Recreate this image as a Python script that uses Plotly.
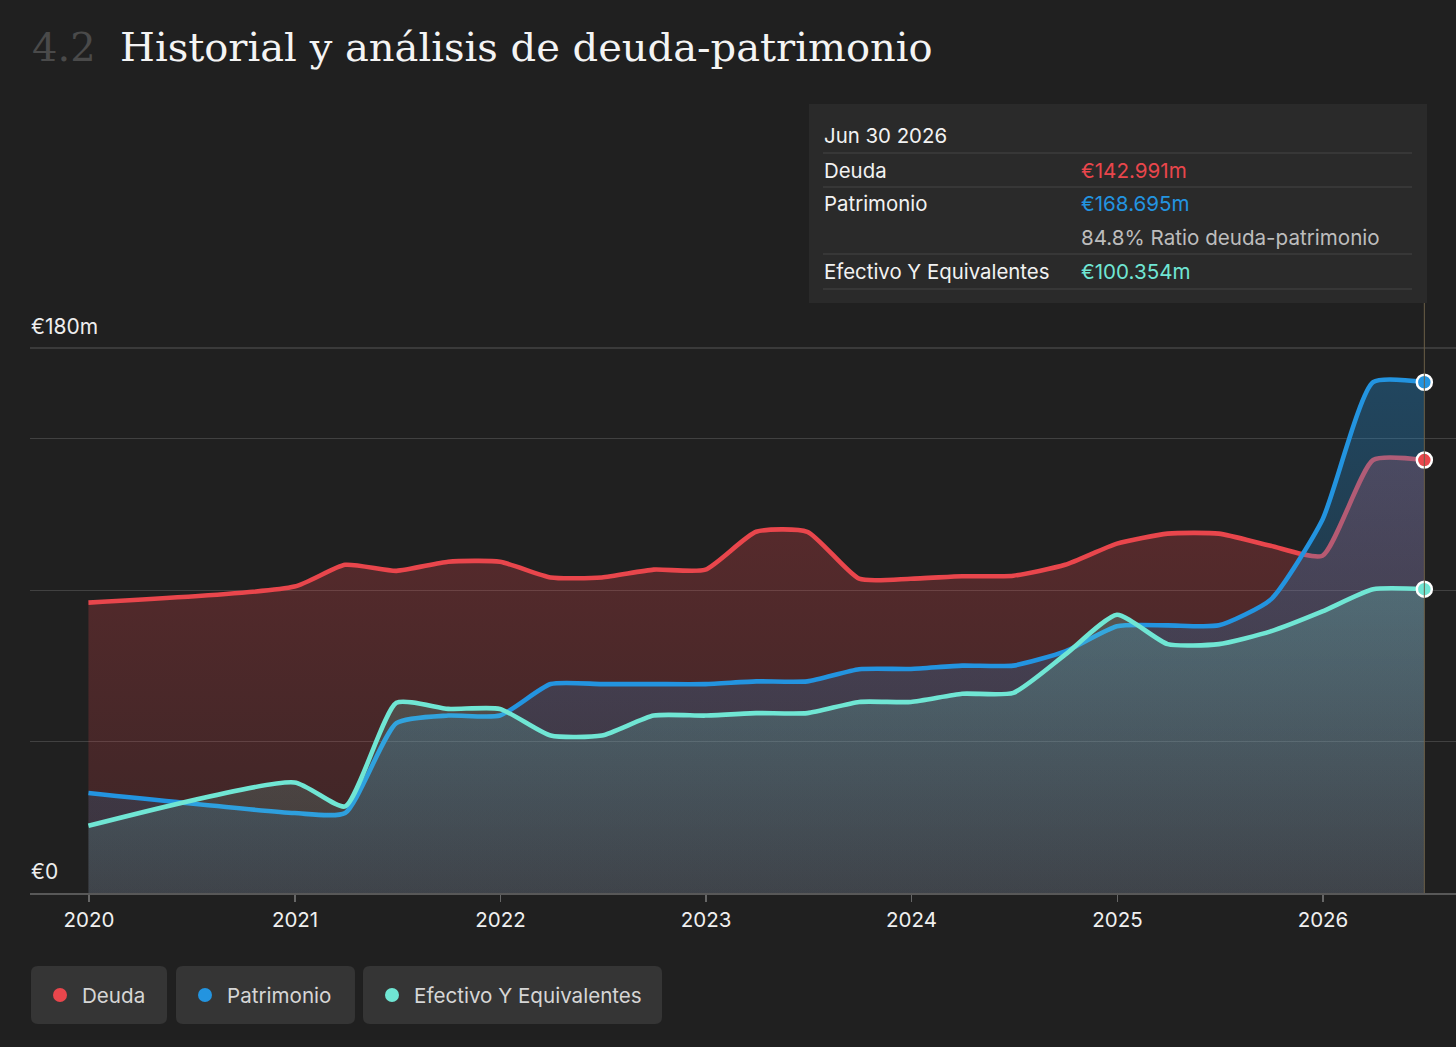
import plotly.graph_objects as go
import pandas as pd

# ---------------- data ----------------
dates = ["2019-12-31", "2020-12-31", "2021-03-31", "2021-06-30", "2021-09-30", "2021-12-31",
         "2022-03-31", "2022-06-30", "2022-09-30", "2022-12-31", "2023-03-31", "2023-06-30",
         "2023-09-30", "2023-12-31", "2024-03-31", "2024-06-30", "2024-09-30", "2024-12-31",
         "2025-03-31", "2025-06-30", "2025-09-30", "2025-12-31", "2026-03-31", "2026-06-30"]
deuda = [95.9, 101.2, 108.4, 106.4, 109.4, 109.4, 104.2, 104.2, 106.8, 106.8, 119.3, 119.3,
         103.8, 103.8, 104.6, 104.8, 108.4, 115.4, 118.7, 118.7, 114.7, 111.4, 143.0, 142.991]
patrimonio = [33.0, 26.4, 26.4, 56.1, 58.6, 58.6, 69.0, 69.0, 69.0, 69.0, 69.9, 69.9,
              73.9, 74.0, 75.1, 75.1, 79.8, 88.1, 88.4, 88.4, 96.9, 123.3, 168.7, 168.695]
efectivo = [22.2, 36.5, 28.6, 62.8, 60.8, 60.8, 52.0, 52.0, 58.6, 58.6, 59.4, 59.4,
            63.1, 63.1, 65.8, 66.1, 78.7, 91.9, 82.2, 82.2, 86.4, 93.0, 100.3, 100.354]

series_names = ["Deuda", "Patrimonio", "Efectivo Y Equivalentes"]
tooltip_date = "Jun 30 2026"
tooltip_values = ["€142.991m", "€168.695m", "€100.354m"]
ratio_text = "84.8% Ratio deuda-patrimonio"
y_labels = ["€0", "€180m"]
grid_vals = [0, 50, 100, 150]
top_val = 180

RED = "#e9464c"
BLUE = "#2394e0"
TEAL = "#70e6d4"
BG = "#202020"

# ---------------- geometry ----------------
W, H = 1456, 1047
L, R, T, B = 30, 0, 300, 154
PW, PH = W - L - R, H - T - B
PX_PER_M = 3.0278

x0_date = pd.Timestamp("2020-01-01")
px_per_day = (1323 - 89) / (pd.Timestamp("2026-01-01") - x0_date).days
xr0 = x0_date - pd.Timedelta(days=(89 - L) / px_per_day)
xr1 = x0_date + pd.Timedelta(days=(W - R - 89) / px_per_day)
yr1 = PH / PX_PER_M


def px(xp):
    return (xp - L) / PW


def py(yp):
    return (H - B - yp) / PH


def rgba(hexc, a):
    h = hexc.lstrip("#")
    r, g, b = int(h[0:2], 16), int(h[2:4], 16), int(h[4:6], 16)
    return f"rgba({r},{g},{b},{a})"


fig = go.Figure()

specs = [
    (deuda, RED, 0.14, 0.33),
    (patrimonio, BLUE, 0.11, 0.34),
    (efectivo, TEAL, 0.10, 0.36),
]
for (vals, col, a0, a1), name in zip(specs, series_names):
    fig.add_trace(go.Scatter(
        x=dates, y=vals, name=name, mode="lines",
        line=dict(color=col, width=4.6, shape="spline", smoothing=0.55),
        fill="tozeroy",
        fillgradient=dict(type="vertical", start=0, stop=180,
                          colorscale=[[0, rgba(col, a0)], [1, rgba(col, a1)]]),
        hoverinfo="skip", showlegend=False,
    ))

for (vals, col, a0, a1), name in zip(specs, series_names):
    fig.add_trace(go.Scatter(
        x=[dates[-1]], y=[vals[-1]], mode="markers",
        marker=dict(color=col, size=15, line=dict(color="white", width=2.5)),
        hoverinfo="skip", showlegend=False, cliponaxis=False,
    ))

shapes = []
# top gridline (180m)
shapes.append(dict(type="line", xref="paper", yref="y", x0=0, x1=1, y0=top_val, y1=top_val,
                   line=dict(color="rgba(255,255,255,0.24)", width=1.2), layer="below"))
# vertical cursor line
shapes.append(dict(type="line", xref="x", yref="paper", x0=dates[-1], x1=dates[-1],
                   y0=0, y1=py(303), line=dict(color="#6b6048", width=1), layer="above"))

# tooltip box
shapes.append(dict(type="rect", xref="paper", yref="paper", x0=px(809), x1=px(1427),
                   y0=py(104), y1=py(303), fillcolor="#2a2a2a", line=dict(width=0), layer="above"))
for sy in [153, 187, 254, 289]:
    shapes.append(dict(type="line", xref="paper", yref="paper", x0=px(823), x1=px(1412),
                       y0=py(sy), y1=py(sy), line=dict(color="#3d3d3d", width=1.5), layer="above"))


def rrect(x0, y0, x1, y1, r):
    def P(a, b):
        return f"{px(a):.6f},{py(b):.6f}"
    return (f"M {P(x0 + r, y0)} L {P(x1 - r, y0)} Q {P(x1, y0)} {P(x1, y0 + r)} "
            f"L {P(x1, y1 - r)} Q {P(x1, y1)} {P(x1 - r, y1)} L {P(x0 + r, y1)} "
            f"Q {P(x0, y1)} {P(x0, y1 - r)} L {P(x0, y0 + r)} Q {P(x0, y0)} {P(x0 + r, y0)} Z")


legend_boxes = [(31, 167), (176, 355), (363, 662)]
legend_cols = [RED, BLUE, TEAL]
annotations = []
for (bx0, bx1), col, name in zip(legend_boxes, legend_cols, series_names):
    shapes.append(dict(type="path", xref="paper", yref="paper", path=rrect(bx0, 966, bx1, 1024, 7),
                       fillcolor="#353535", line=dict(width=0)))
    cx = bx0 + 29
    shapes.append(dict(type="circle", xref="paper", yref="paper", x0=px(cx - 7), x1=px(cx + 7),
                       y0=py(995 + 7), y1=py(995 - 7), fillcolor=col, line=dict(width=0)))
    annotations.append(dict(xref="paper", yref="paper", x=px(bx0 + 49), y=py(995), text=name,
                            showarrow=False, xanchor="left", yanchor="middle",
                            font=dict(family="Inter", size=20.6, color="#d6d6d6")))

# title
annotations.append(dict(xref="paper", yref="paper", x=px(30), y=py(47), text="4.2", showarrow=False,
                        xanchor="left", yanchor="middle",
                        font=dict(family="DejaVu Serif", size=40, color="#4a4a4a")))
annotations.append(dict(xref="paper", yref="paper", x=px(118), y=py(47),
                        text="Historial y análisis de deuda-patrimonio", showarrow=False,
                        xanchor="left", yanchor="middle",
                        font=dict(family="DejaVu Serif", size=40, color="#f4f4f4")))

# y labels
for txt, yy in zip(y_labels, [871, 326]):
    annotations.append(dict(xref="paper", yref="paper", x=px(29), y=py(yy), text=txt,
                            showarrow=False, xanchor="left", yanchor="middle",
                            font=dict(family="Inter", size=21, color="#eeeeee")))

# tooltip text
tf = dict(family="Inter", size=20.4, color="#f2f2f2")
annotations.append(dict(xref="paper", yref="paper", x=px(822), y=py(135), text=tooltip_date,
                        showarrow=False, xanchor="left", yanchor="middle", font=tf))
rows_y = [170, 204, 271]
for yy, name, val, col in zip(rows_y, series_names, tooltip_values, legend_cols):
    annotations.append(dict(xref="paper", yref="paper", x=px(822), y=py(yy), text=name,
                            showarrow=False, xanchor="left", yanchor="middle", font=tf))
    annotations.append(dict(xref="paper", yref="paper", x=px(1079), y=py(yy), text=val,
                            showarrow=False, xanchor="left", yanchor="middle",
                            font=dict(family="Inter", size=20.6, color=col)))
annotations.append(dict(xref="paper", yref="paper", x=px(1079), y=py(237), text=ratio_text,
                        showarrow=False, xanchor="left", yanchor="middle",
                        font=dict(family="Inter", size=20.6, color="#bdbdbd")))

fig.update_layout(
    width=W, height=H,
    margin=dict(l=L, r=R, t=T, b=B, pad=0),
    paper_bgcolor=BG, plot_bgcolor=BG,
    showlegend=False, hovermode=False,
    shapes=shapes, annotations=annotations,
    xaxis=dict(type="date", range=[xr0, xr1], tick0="2020-01-01", dtick="M12", tickformat="%Y",
               showgrid=False, zeroline=False, showline=True, linecolor="#585858", linewidth=1.5,
               ticks="outside", ticklen=7, tickcolor="#666666", tickwidth=1.5,
               ticklabelstandoff=1,
               tickfont=dict(family="Inter", size=20.5, color="#f0f0f0"), fixedrange=True),
    yaxis=dict(range=[0, yr1], tickvals=grid_vals, showticklabels=False, showgrid=True,
               gridcolor="rgba(255,255,255,0.15)", gridwidth=1, zeroline=False, fixedrange=True),
)

fig.write_html("out.html", config={"displayModeBar": False, "staticPlot": True},
               post_script="document.body.style.margin='0';document.body.style.overflow='hidden';")
